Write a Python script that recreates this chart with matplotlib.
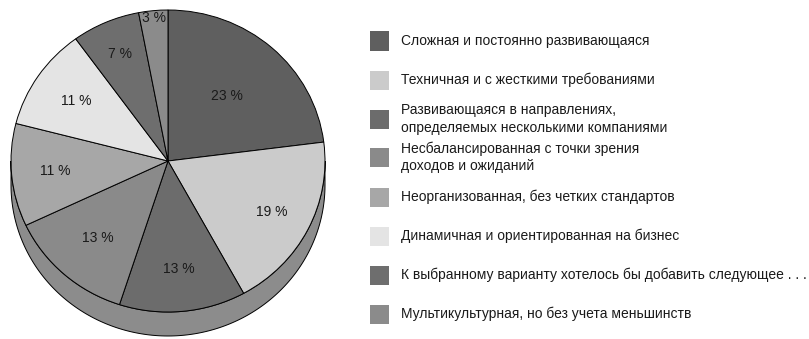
import numpy as np
import matplotlib.pyplot as plt
from matplotlib.patches import Rectangle, Polygon

plt.rcParams['font.family'] = ['Liberation Sans', 'DejaVu Sans']

labels = [
    'Сложная и постоянно развивающаяся',
    'Техничная и с жесткими требованиями',
    'Развивающаяся в направлениях,\nопределяемых несколькими компаниями',
    'Несбалансированная с точки зрения\nдоходов и ожиданий',
    'Неорганизованная, без четких стандартов',
    'Динамичная и ориентированная на бизнес',
    'К выбранному варианту хотелось бы добавить следующее . . .',
    'Мультикультурная, но без учета меньшинств',
]
values = [23, 19, 13, 13, 11, 11, 7, 3]
colors = ['#5f5f5f', '#cbcbcb', '#6c6c6c', '#8a8a8a',
          '#a7a7a7', '#e4e4e4', '#6e6e6e', '#8b8b8b']
label_r = [0.57, 0.74, 0.72, 0.68, 0.72, 0.71, 0.77, 0.95]

W, H = 809, 339
fig = plt.figure(figsize=(W / 100, H / 100), dpi=100)
ax = fig.add_axes([0, 0, 1, 1])

# pie centre and radii in pixels (slightly squashed ellipse)
cx, cy, rx, ry = 168, 161, 157, 151
depth = 24 / ry

# rim of the "3d" pie
t = np.linspace(np.pi, 2 * np.pi, 200)
top = np.column_stack([np.cos(t), np.sin(t)])
bot = np.column_stack([np.cos(t[::-1]), np.sin(t[::-1]) - depth])
ax.add_patch(Polygon(np.vstack([top, bot]), closed=True, facecolor='#8c8c8c',
                     edgecolor='black', linewidth=0.7, zorder=1))

wedges, _ = ax.pie(values, colors=colors, startangle=90, counterclock=False,
                   radius=1, wedgeprops=dict(edgecolor='black', linewidth=0.7))
for w in wedges:
    w.set_zorder(2)

# percentage labels
ang = 90 - (np.cumsum(values) - np.array(values) / 2) / 100 * 360
for v, a, r in zip(values, ang, label_r):
    ax.text(r * np.cos(np.radians(a)), r * np.sin(np.radians(a)), f'{v} %',
            ha='center', va='center', fontsize=10, color='#1a1a1a', zorder=3)

ax.set_aspect('auto')
ax.set_xlim(-cx / rx, (W - cx) / rx)
ax.set_ylim((cy - H) / ry, cy / ry)
ax.axis('off')

# legend boxes and texts
box_y = [41, 80, 119, 157, 197, 236, 275, 314]
for lab, c, y in zip(labels, colors, box_y):
    fig.patches.append(Rectangle((370 / W, 1 - (y + 9.5) / H), 19 / W, 19 / H,
                                 transform=fig.transFigure, facecolor=c,
                                 edgecolor='none'))
    fig.text(401 / W, 1 - y / H, lab, ha='left', va='center', fontsize=10,
             color='#1a1a1a', linespacing=1.3)

fig.savefig('out.png', dpi=100)
